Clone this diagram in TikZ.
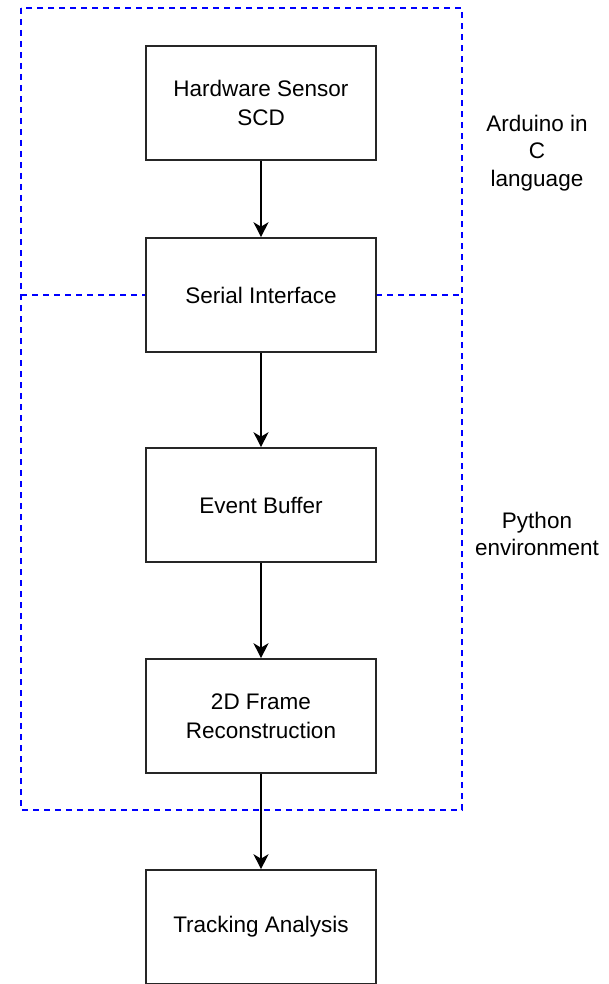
\documentclass[tikz,border=0pt]{standalone}
\usepackage{fontspec}
\setmainfont{Liberation Sans}
\usetikzlibrary{arrows.meta}
\begin{document}
\begin{tikzpicture}[x=1pt,y=-1pt,
  box/.style={draw=black!85, line width=1.6pt, fill=white, minimum width=230pt, minimum height=114pt, align=center, inner sep=0pt, font=\fontsize{22.5}{29.5}\selectfont},
  lbl/.style={align=center, inner sep=0pt, font=\fontsize{22.5}{27.5}\selectfont},
  conn/.style={draw=black, line width=1.6pt, -{Stealth[length=15pt,width=15pt,inset=4.5pt]}},
  env/.style={draw=blue, line width=1.6pt, dash pattern=on 6pt off 5pt}]
\useasboundingbox (0,0) rectangle (608,984);
\draw[env] (21,8) rectangle (462,810);
\coordinate (hl1) at (21,295);
\coordinate (hl2) at (146,295);
\coordinate (hr1) at (376,295);
\coordinate (hr2) at (462,295);
\draw[env] (hl1) -- (hl2);
\draw[env] (hr1) -- (hr2);
\node[box] (hw) at (261,103) {Hardware Sensor\\SCD};
\node[box] (si) at (261,295) {Serial Interface};
\node[box] (eb) at (261,505) {Event Buffer};
\node[box] (fr) at (261,716) {2D Frame\\Reconstruction};
\node[box] (ta) at (261,927) {Tracking Analysis};
\draw[conn] (hw) -- (si);
\draw[conn] (si) -- (eb);
\draw[conn] (eb) -- (fr);
\draw[conn] (fr) -- (ta);
\node[lbl] (ard) at (537,153) {Arduino in\\C\\language};
\node[lbl] (py) at (537,534) {Python\\environment};
\end{tikzpicture}
\end{document}
